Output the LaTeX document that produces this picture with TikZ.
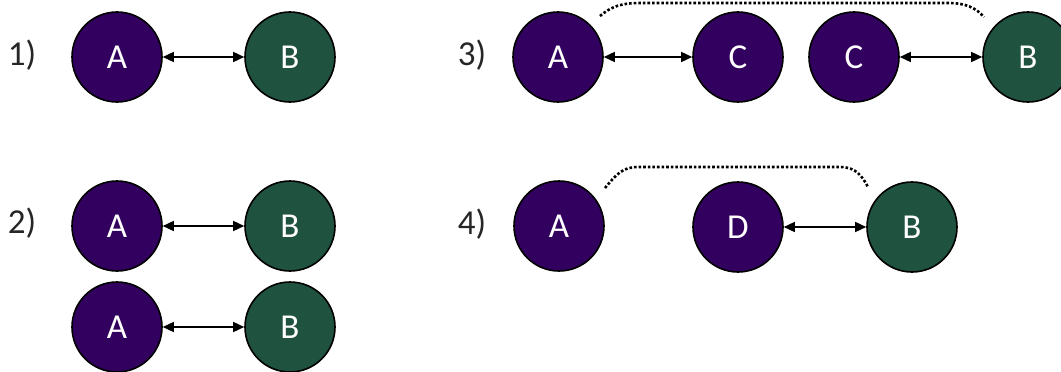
\documentclass[tikz,border=0pt]{standalone}
\usepackage{fontspec}
\setmainfont{Carlito}
\usetikzlibrary{arrows.meta}

\definecolor{molpurple}{RGB}{50,0,94}
\definecolor{molgreen}{RGB}{32,82,64}

\tikzset{
  mol/.style={circle, draw=black, line width=1.6pt, minimum size=90pt, inner sep=0pt,
              text=white, font=\fontsize{35}{40}\selectfont},
  pmol/.style={mol, fill=molpurple},
  gmol/.style={mol, fill=molgreen},
  bond/.style={{Triangle[length=11pt,width=10pt]}-{Triangle[length=11pt,width=10pt]}, line width=1.5pt},
  tie/.style={line width=2.6pt, dash pattern=on 2.6pt off 2pt},
  tag/.style={text=black!85, font=\fontsize{35}{40}\selectfont}
}

\begin{document}
\begin{tikzpicture}[x=1pt, y=-1pt]
      \useasboundingbox (0,0) rectangle (1061,372);
      % 1)
      \node[tag] (t1) at (22,55) {1)};
      \node[pmol] (a1) at (117,57) {A};
      \node[gmol] (b1) at (290,57) {B};
      \draw[bond] (a1) -- (b1);
      % 2)
      \node[tag] (t2) at (22,223) {2)};
      \node[pmol] (a2) at (117,226) {A};
      \node[gmol] (b2) at (290,226) {B};
      \node[pmol] (a2b) at (117,327) {A};
      \node[gmol] (b2b) at (290,327) {B};
      \draw[bond] (a2) -- (b2);
      \draw[bond] (a2b) -- (b2b);
      % 3)
      \node[tag] (t3) at (472,55) {3)};
      \node[pmol] (a3) at (558,57) {A};
      \node[pmol] (c3) at (738,57) {C};
      \node[pmol] (c3b) at (854,57) {C};
      \node[gmol] (b3) at (1028,57) {B};
      \draw[bond] (a3) -- (c3);
      \draw[bond] (c3b) -- (b3);
      \coordinate (s3) at (600,16);
      \coordinate (e3) at (984,17);
      \draw[tie] (s3) .. controls (612,6) and (622,3) .. (640,3) -- (948,3)
                 .. controls (966,3) and (976,8) .. (e3);
      % 4)
      \node[tag] (t4) at (472,224) {4)};
      \node[pmol] (a4) at (559,226) {A};
      \node[pmol] (d4) at (738,227) {D};
      \node[gmol] (b4) at (912,227) {B};
      \draw[bond] (d4) -- (b4);
      \coordinate (s4) at (605,188);
      \coordinate (e4) at (868,187);
      \draw[tie] (s4) .. controls (616,175) and (622,167) .. (638,167) -- (840,167)
                 .. controls (856,167) and (862,176) .. (e4);
\end{tikzpicture}
\end{document}
